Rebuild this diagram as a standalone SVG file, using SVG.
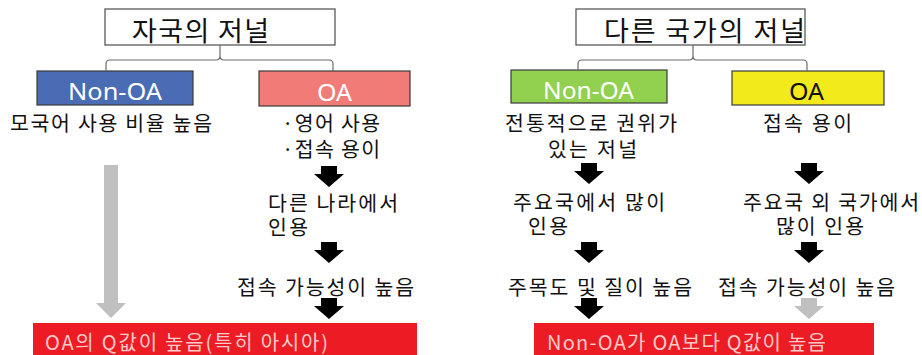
<svg xmlns="http://www.w3.org/2000/svg" width="922" height="355" viewBox="0 0 922 355">
<defs>
<style>
.title{fill:#fff;stroke:#595959;stroke-width:1.3}
.box{stroke:#3a3a3a;stroke-width:1.2}
.brace{fill:none;stroke:#6b6b6b;stroke-width:1.2}
.kt{font-family:"Noto Sans CJK KR","Noto Sans",sans-serif;fill:#111}
.t27{font-size:27px}
.t21{font-size:20.5px}
.lbl{font-family:"Noto Sans","Noto Sans CJK KR",sans-serif;font-size:24px}
.bar{fill:#ed1c24}
.bart{font-family:"Noto Sans CJK KR","Noto Sans",sans-serif;font-size:20px;fill:#fbcaca}
</style>
<path id="arr" d="M-8,0 H8 V8 H15 L0,21 L-15,8 H-8 Z"/>
</defs>

<g id="left-title"><rect class="title" x="105" y="9" width="230" height="36"/><text class="kt t27" x="132" y="41" textLength="137" lengthAdjust="spacing">자국의 저널</text></g>
<g id="left-nonoa"><rect class="box" x="37" y="71" width="156" height="34" fill="#4a6cb5"/><text class="lbl" x="68" y="100" fill="#fff" textLength="94" lengthAdjust="spacingAndGlyphs">Non-OA</text></g>
<g id="left-oa"><rect class="box" x="259" y="71" width="151" height="35" fill="#f17b77"/><text class="lbl" x="317" y="101" fill="#fff" textLength="35" lengthAdjust="spacingAndGlyphs">OA</text></g>
<g id="left-nonoa-desc"><text class="kt t21" x="10" y="130.5" textLength="202" lengthAdjust="spacing">모국어 사용 비율 높음</text></g>
<g id="left-oa-desc"><text class="kt t21" x="282" y="131" textLength="98" lengthAdjust="spacing">·영어 사용</text><text class="kt t21" x="282" y="156.5" textLength="98" lengthAdjust="spacing">·접속 용이</text></g>
<g id="left-cite"><text class="kt t21" x="268" y="211" textLength="130" lengthAdjust="spacing">다른 나라에서</text><text class="kt t21" x="268" y="235" textLength="40" lengthAdjust="spacing">인용</text></g>
<g id="left-access"><text class="kt t21" x="237" y="295" textLength="177" lengthAdjust="spacing">접속 가능성이 높음</text></g>
<g id="left-result"><rect class="bar" x="33" y="323" width="384" height="40"/><text class="bart" x="45" y="350" textLength="283" lengthAdjust="spacing">OA의 Q값이 높음(특히 아시아)</text></g>

<g id="right-title"><rect class="title" x="576" y="9" width="229" height="36"/><text class="kt t27" x="604" y="41" textLength="201" lengthAdjust="spacing">다른 국가의 저널</text></g>
<g id="right-nonoa"><rect class="box" x="511" y="70" width="156" height="33" fill="#92d050"/><text class="lbl" x="543" y="99" fill="#fff" textLength="91" lengthAdjust="spacingAndGlyphs">Non-OA</text></g>
<g id="right-oa"><rect class="box" x="732" y="71" width="152" height="34" fill="#f2ea1a"/><text class="lbl" x="789" y="100" fill="#111" textLength="35" lengthAdjust="spacingAndGlyphs">OA</text></g>
<g id="right-nonoa-desc"><text class="kt t21" x="505" y="131" textLength="172" lengthAdjust="spacing">전통적으로 권위가</text><text class="kt t21" x="548" y="156.5" textLength="89" lengthAdjust="spacing">있는 저널</text></g>
<g id="right-oa-desc"><text class="kt t21" x="763" y="131" textLength="89" lengthAdjust="spacing">접속 용이</text></g>
<g id="right-nonoa-cite"><text class="kt t21" x="513" y="210" textLength="152" lengthAdjust="spacing">주요국에서 많이</text><text class="kt t21" x="528" y="234" textLength="40" lengthAdjust="spacing">인용</text></g>
<g id="right-oa-cite"><text class="kt t21" x="743" y="210" textLength="176" lengthAdjust="spacing">주요국 외 국가에서</text><text class="kt t21" x="776" y="234" textLength="88" lengthAdjust="spacing">많이 인용</text></g>
<g id="right-nonoa-quality"><text class="kt t21" x="508" y="295" textLength="184" lengthAdjust="spacing">주목도 및 질이 높음</text></g>
<g id="right-oa-access"><text class="kt t21" x="718" y="295" textLength="177" lengthAdjust="spacing">접속 가능성이 높음</text></g>
<g id="right-result"><rect class="bar" x="534" y="323" width="340" height="40"/><text class="bart" x="547" y="350" textLength="279" lengthAdjust="spacing">Non-OA가 OA보다 Q값이 높음</text></g>

<g id="connectors">
<path class="brace" d="M106,71 V64 Q106,60 110,60 H216 Q220,60 220,56 V45 M220,56 Q220,60 224,60 H329 Q333,60 333,64 V71"/>
<path class="brace" d="M578,71 V64 Q578,60 582,60 H689 Q693,60 693,56 V45 M693,56 Q693,60 697,60 H803 Q807,60 807,64 V71"/>
<path d="M104,165 H118 V303 H126 L111,318 L96,303 H104 Z" fill="#c0c0c0"/>
<use href="#arr" x="329" y="166" fill="#000"/>
<use href="#arr" x="329" y="242" fill="#000"/>
<use href="#arr" x="329" y="298" fill="#000"/>
<use href="#arr" x="589" y="163" fill="#000"/>
<use href="#arr" x="589" y="242" fill="#000"/>
<use href="#arr" x="589" y="298" fill="#000"/>
<use href="#arr" x="809" y="163" fill="#000"/>
<use href="#arr" x="809" y="242" fill="#000"/>
<use href="#arr" x="809" y="298" fill="#c0c0c0"/>
</g>
</svg>
